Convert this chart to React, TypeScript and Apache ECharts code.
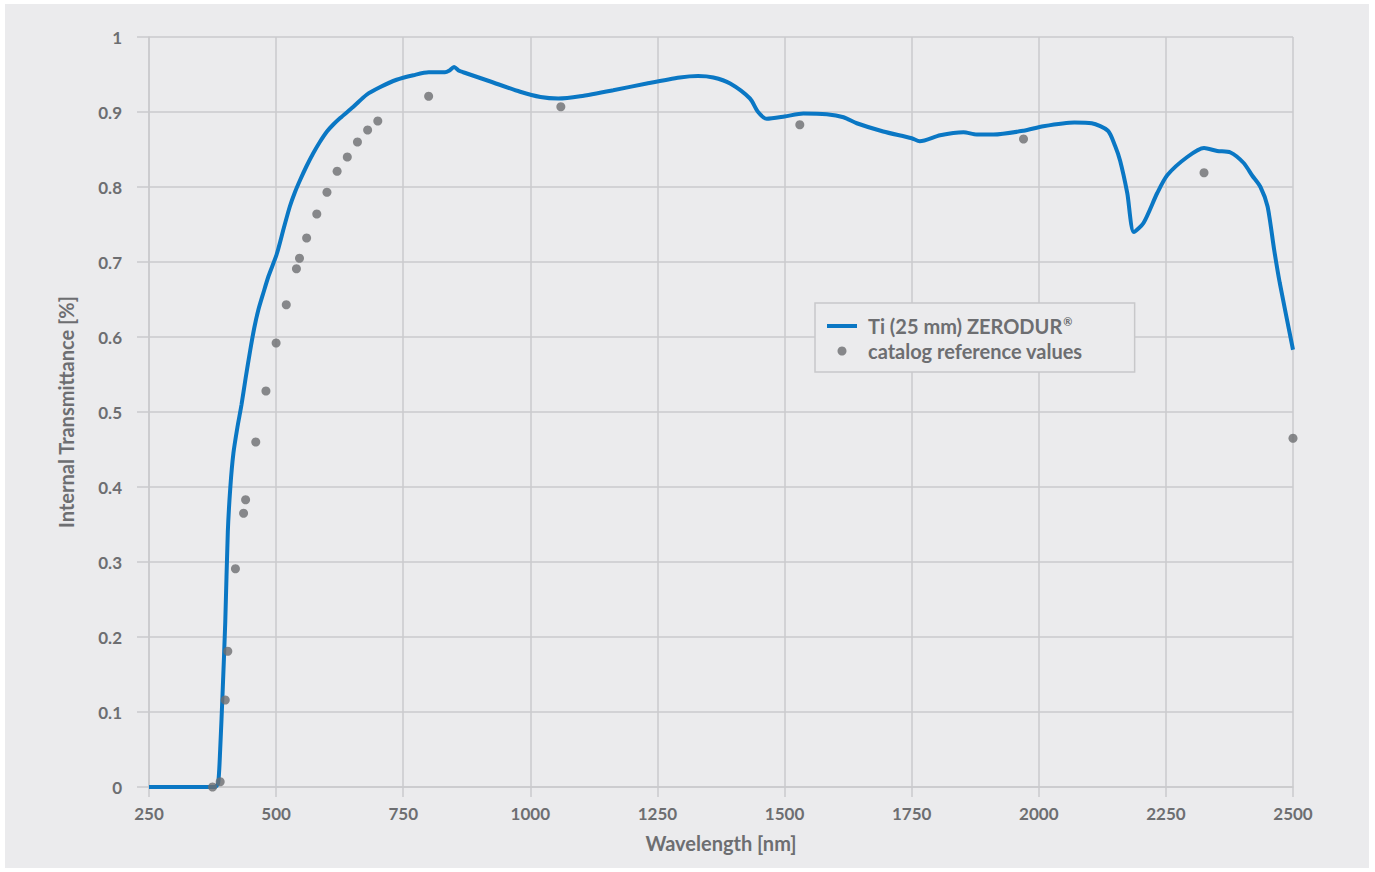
import React, { useEffect, useRef } from "react";
import * as echarts from "echarts";

const xTicks = [250, 500, 750, 1000, 1250, 1500, 1750, 2000, 2250, 2500];

const lineWavelengths = [
  250, 375, 380, 386, 390, 395, 400, 405, 410, 416, 424, 432, 440, 449, 457, 465, 475, 485,
  501, 515, 527, 537, 547, 560, 573, 586, 600, 612, 626, 652, 678, 704, 737, 770, 800, 832,
  840, 850, 860, 868, 920, 980, 1020, 1055, 1098, 1163, 1229, 1294, 1330, 1360, 1393, 1432,
  1448, 1465, 1500, 1537, 1583, 1616, 1642, 1694, 1750, 1766, 1806, 1852, 1878, 1911, 1970,
  2009, 2070, 2104, 2136, 2150, 2160, 2174, 2187, 2206, 2233, 2253, 2292, 2325, 2351, 2377,
  2403, 2420, 2436, 2450, 2463, 2474, 2500,
];
const lineValues = [
  0, 0, 0, 0.005, 0.05, 0.13, 0.22, 0.34, 0.4, 0.445, 0.48, 0.51, 0.545, 0.582, 0.612, 0.636,
  0.659, 0.681, 0.71, 0.745, 0.774, 0.793, 0.809, 0.828, 0.845, 0.86, 0.874, 0.883, 0.892,
  0.907, 0.923, 0.933, 0.943, 0.949, 0.953, 0.953, 0.955, 0.96, 0.955, 0.953, 0.941, 0.927,
  0.92, 0.918, 0.921, 0.929, 0.938, 0.946, 0.948, 0.946, 0.938, 0.918, 0.9, 0.891, 0.894,
  0.898, 0.897, 0.893, 0.885, 0.874, 0.865, 0.861, 0.869, 0.873, 0.87, 0.87, 0.875, 0.881,
  0.886, 0.885, 0.875, 0.855, 0.835, 0.792, 0.74, 0.752, 0.792, 0.816, 0.84, 0.852, 0.848,
  0.846, 0.832, 0.815, 0.8, 0.774, 0.716, 0.672, 0.583,
];

const catalogWavelengths = [
  375, 390, 400, 405, 420, 436, 440, 460, 480, 500, 520, 540, 546, 560, 580, 600, 620, 640,
  660, 680, 700, 800, 1060, 1530, 1970, 2325, 2500,
];
const catalogValues = [
  0, 0.007, 0.116, 0.181, 0.291, 0.365, 0.383, 0.46, 0.528, 0.592, 0.643, 0.691, 0.705, 0.732,
  0.764, 0.793, 0.821, 0.84, 0.86, 0.876, 0.888, 0.921, 0.907, 0.883, 0.864, 0.819, 0.465,
];

const lineName = "Ti (25 mm) ZERODUR®";
const scatterName = "catalog reference values";

const TEXT = "#6d6e71";
const GRID = "#cacacc";
const BLUE = "#0a77c4";
const FONT = "Lato, 'Open Sans', sans-serif";

export default function App() {
  const ref = useRef<HTMLDivElement>(null);
  useEffect(() => {
    if (!ref.current) return;
    const chart = echarts.init(ref.current, undefined, { renderer: "svg" });
    chart.setOption({
      animation: false,
      backgroundColor: "transparent",
      textStyle: { fontFamily: FONT },
      grid: { left: 149, right: 82, top: 37, bottom: 85, containLabel: false },
      legend: {
        orient: "vertical",
        left: 815,
        top: 303,
        padding: [13, 52, 11, 10],
        itemGap: 5,
        itemWidth: 30,
        itemHeight: 9,
        backgroundColor: "#ebebed",
        borderColor: "#c8c8ca",
        borderWidth: 1.5,
        data: [
          { name: lineName, itemStyle: { opacity: 0 }, lineStyle: { width: 4, color: BLUE } },
          { name: scatterName },
        ],
        formatter: (name: string) =>
          name === lineName ? "Ti (25 mm) ZERODUR{sup|®}" : name,
        textStyle: {
          color: TEXT,
          fontSize: 20,
          fontWeight: "bold",
          fontFamily: FONT,
          padding: [0, 0, 0, 6],
          rich: {
            sup: {
              color: TEXT,
              fontSize: 11,
              fontWeight: "bold",
              fontFamily: FONT,
              verticalAlign: "top",
              padding: [0, 0, 8, 1],
            },
          },
        },
      },
      xAxis: {
        type: "value",
        min: xTicks[0],
        max: xTicks[xTicks.length - 1],
        interval: 250,
        name: "Wavelength [nm]",
        nameLocation: "middle",
        nameGap: 46,
        nameTextStyle: { color: TEXT, fontSize: 20, fontWeight: "bold", fontFamily: FONT },
        axisLine: { show: true, lineStyle: { color: GRID, width: 1.5 } },
        axisTick: { show: true, length: 10, lineStyle: { color: GRID, width: 1.5 } },
        axisLabel: {
          color: TEXT,
          fontSize: 17,
          fontWeight: "bold",
          margin: 18,
          fontFamily: FONT,
          formatter: (v: number) => String(v),
        },
        splitLine: { show: true, lineStyle: { color: GRID, width: 1.5 } },
      },
      yAxis: {
        type: "value",
        min: 0,
        max: 1,
        interval: 0.1,
        name: "Internal Transmittance [%]",
        nameLocation: "middle",
        nameGap: 73,
        nameTextStyle: { color: TEXT, fontSize: 20, fontWeight: "bold", fontFamily: FONT },
        axisLine: { show: true, lineStyle: { color: GRID, width: 1.5 } },
        axisTick: { show: true, length: 12, lineStyle: { color: GRID, width: 1.5 } },
        axisLabel: {
          color: TEXT,
          fontSize: 17,
          fontWeight: "bold",
          margin: 27,
          fontFamily: FONT,
          formatter: (v: number) =>
            v === 0 ? "0" : v === 1 ? "1" : (Math.round(v * 10) / 10).toFixed(1),
        },
        splitLine: { show: true, lineStyle: { color: GRID, width: 1.5 } },
      },
      series: [
        {
          name: lineName,
          type: "line",
          symbol: "none",
          smooth: 0.25,
          data: lineWavelengths.map((x, i) => [x, lineValues[i]]),
          lineStyle: { color: BLUE, width: 4 },
          itemStyle: { color: BLUE },
          z: 3,
        },
        {
          name: scatterName,
          type: "scatter",
          symbol: "circle",
          symbolSize: 9,
          clip: false,
          data: catalogWavelengths.map((x, i) => [x, catalogValues[i]]),
          itemStyle: { color: "#6d6e71" },
          z: 4,
        },
      ],
    });
    return () => chart.dispose();
  }, []);

  return (
    <div style={{ position: "absolute", left: 0, top: 0, width: 1375, height: 872, background: "#ffffff" }}>
      <div style={{ position: "absolute", left: 5, top: 4, width: 1364, height: 864, background: "#ebebed" }} />
      <div ref={ref} style={{ position: "absolute", left: 0, top: 0, width: 1375, height: 872 }} />
    </div>
  );
}
